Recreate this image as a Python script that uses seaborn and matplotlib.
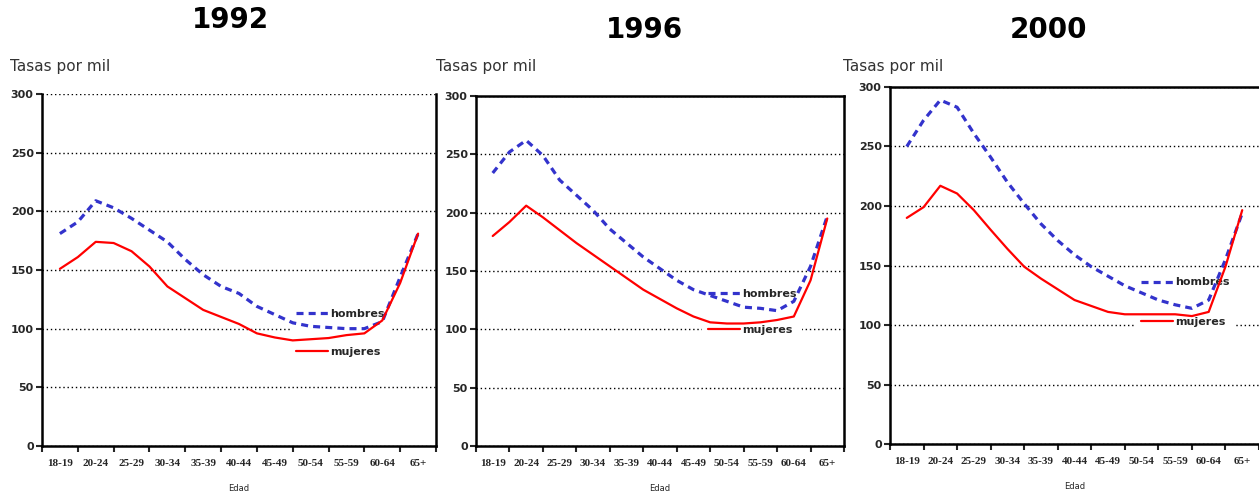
import pandas as pd
import matplotlib
matplotlib.use("Agg")
import matplotlib.pyplot as plt
import seaborn as sns

edades = ["18-19", "20-24", "25-29", "30-34", "35-39", "40-44",
          "45-49", "50-54", "55-59", "60-64", "65+"]
# puntos leidos cada media categoria (0 = 18-19, 10 = 65+)
puntos = [0, 0.5, 1, 1.5, 2, 2.5, 3, 3.5, 4, 4.5, 5,
          5.5, 6, 6.5, 7, 7.5, 8, 8.5, 9, 9.5, 10]

hombres_1992 = [181, 191, 209, 203, 194, 184, 174, 159, 146, 136, 130,
                119, 112, 105, 102, 101, 100, 100, 106, 144, 181]
mujeres_1992 = [151, 161, 174, 173, 166, 153, 136, 126, 116, 110, 104,
                96, 92.5, 90, 91, 92, 94.5, 96, 107, 139, 181]

hombres_1996 = [234, 252, 262, 249, 228, 215, 202, 186, 174, 162, 152,
                142, 134, 129, 124, 119, 118, 116, 124, 154, 197]
mujeres_1996 = [180, 192, 206, 196, 185, 174, 164, 154, 144, 134, 126,
                118, 111, 106, 105, 105, 106, 108, 111, 142, 195]

hombres_2000 = [250, 272, 289, 283, 261, 241, 220, 202, 185, 171, 159,
                149, 141, 133, 127, 121, 117, 114, 121, 155, 194]
mujeres_2000 = [190, 199, 217, 210.5, 196.5, 180, 164, 149, 139, 130, 121,
                116, 111, 109, 109, 109, 109, 107.5, 111, 149, 196.5]

anios = ["1992", "1996", "2000"]
series = {"1992": (hombres_1992, mujeres_1992),
          "1996": (hombres_1996, mujeres_1996),
          "2000": (hombres_2000, mujeres_2000)}

sns.set_style("white")
plt.rcParams["font.family"] = ["DejaVu Sans"]

W, H = 1259, 494
fig = plt.figure(figsize=(W / 100, H / 100), dpi=100)

# [izq, der, abajo, arriba] en pixeles
cajas = {"1992": (42, 436, 446, 94),
         "1996": (476, 844, 446, 96),
         "2000": (890, 1259, 444, 87)}
titulos = {"1992": (230, 20), "1996": (644, 30), "2000": (1049, 30)}
etiq_y = {"1992": 10, "1996": 436, "2000": 843}
leyendas = {"1992": (0.63, 0.404, 2.5), "1996": (0.615, 0.464, 2.3),
            "2000": (0.665, 0.482, 2.65)}

azul = "#3333CC"
rojo = "#FF0000"

for anio in anios:
    l, r, b, t = cajas[anio]
    ax = fig.add_axes([l / W, (H - b) / H, (r - l) / W, (b - t) / H])
    hom, muj = series[anio]
    df = pd.DataFrame({"pos": puntos, "hombres": hom, "mujeres": muj})

    sns.lineplot(data=df, x="pos", y="hombres", ax=ax, color=azul,
                 linewidth=2.3, linestyle=(0, (2.2, 1.6)), label="hombres",
                 zorder=3)
    sns.lineplot(data=df, x="pos", y="mujeres", ax=ax, color=rojo,
                 linewidth=1.6, label="mujeres", zorder=4)

    ax.set_xlim(-0.5, 10.5)
    ax.set_ylim(0, 300)
    ax.set_yticks(range(0, 301, 50))
    ax.set_xticks(range(len(edades)))
    ax.set_xticklabels(edades, fontfamily="Liberation Serif",
                       fontweight="bold", fontsize=8)
    ax.set_xticks([i - 0.5 for i in range(len(edades) + 1)], minor=True)
    ax.tick_params(axis="x", which="major", length=0, pad=9)
    ax.tick_params(axis="x", which="minor", length=4, width=1.5,
                   direction="out", bottom=True)
    ax.tick_params(axis="y", length=4, width=1.5, direction="out", left=True,
                   pad=2, labelsize=8)
    for lab in ax.get_yticklabels():
        lab.set_fontweight("bold")

    ax.grid(axis="y", color="black", linestyle=(0, (1, 2)), linewidth=1)
    ax.grid(axis="x", visible=False)
    ax.set_axisbelow(True)

    for s in ax.spines.values():
        s.set_color("black")
        s.set_linewidth(1.8)
    if anio == "1992":
        ax.spines["top"].set_visible(False)
    if anio == "2000":
        ax.spines["right"].set_visible(False)

    ax.set_xlabel("Edad", fontsize=6, labelpad=12)
    ax.set_ylabel("")

    lx, ly, sp = leyendas[anio]
    leg = ax.legend(loc="upper left", bbox_to_anchor=(lx, ly),
                    frameon=True, fancybox=False, edgecolor="none",
                    facecolor="white", framealpha=1, borderpad=0.5,
                    borderaxespad=0, labelspacing=sp, handlelength=2.9,
                    handletextpad=0.2,
                    prop={"size": 8, "weight": "bold"})
    leg.set_zorder(2)

    tx, ty = titulos[anio]
    fig.text(tx / W, 1 - ty / H, anio, ha="center", va="center",
             fontsize=20, fontweight="bold", color="black")
    fig.text(etiq_y[anio] / W, 1 - 67 / H, "Tasas por mil", ha="left",
             va="center", fontsize=11, color="#333333")

fig.savefig("out.png", dpi=100)
